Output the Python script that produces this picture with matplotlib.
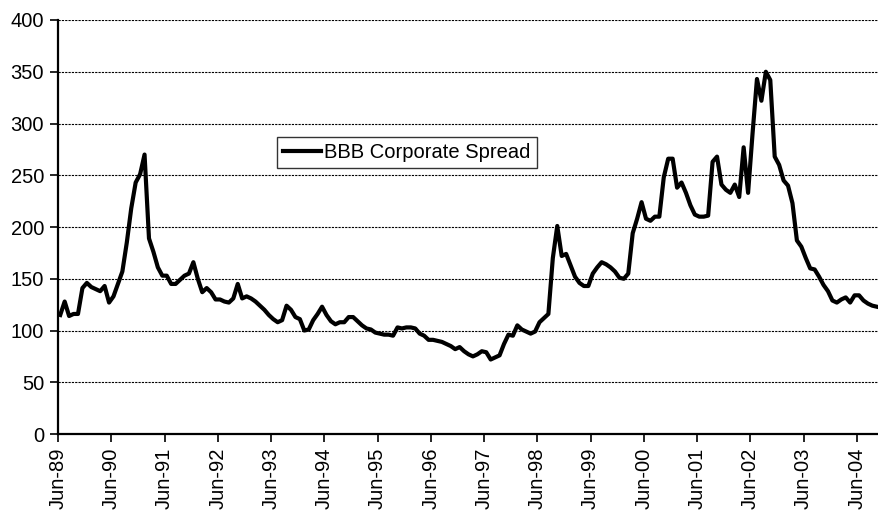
import pandas as pd
import matplotlib
matplotlib.use("Agg")
import matplotlib.pyplot as plt

plt.rcParams['font.family'] = ['Liberation Sans', 'DejaVu Sans']

# monthly BBB corporate spread (bp), Jun-89 onwards
spread = [
    115, 128, 114, 116, 116, 141, 146, 142, 140, 138, 143, 127,
    133, 145, 157, 185, 218, 243, 251, 270, 189, 176, 161, 153,
    153, 145, 145, 149, 153, 155, 166, 150, 137, 141, 137, 130,
    130, 128, 127, 131, 145, 131, 133, 131, 128, 124, 120, 115,
    111, 108, 110, 124, 120, 113, 111, 100, 101, 110, 116, 123,
    115, 109, 106, 108, 108, 113, 113, 109, 105, 102, 101, 98,
    97, 96, 96, 95, 103, 102, 103, 103, 102, 97, 95, 91,
    91, 90, 89, 87, 85, 82, 84, 80, 77, 75, 77, 80,
    79, 72, 74, 76, 87, 96, 95, 105, 101, 99, 97, 99,
    108, 112, 116, 170, 201, 172, 174, 163, 152, 146, 143, 143,
    155, 161, 166, 164, 161, 157, 151, 150, 155, 194, 208, 224,
    208, 206, 210, 210, 248, 266, 266, 238, 243, 233, 221, 212,
    210, 210, 211, 263, 268, 241, 236, 233, 241, 229, 277, 233,
    290, 343, 322, 350, 342, 268, 260, 245, 240, 223, 187, 181,
    170, 160, 159, 152, 144, 138, 129, 127, 130, 132, 127, 134,
    134, 129, 126, 124, 123,
]
dates = pd.date_range('1989-06-01', periods=len(spread), freq='MS')
tick_idx = list(range(0, len(spread), 12))
tick_labels = [dates[i].strftime('%b-%y') for i in tick_idx]

fig = plt.figure(figsize=(8.79, 5.14), dpi=100)
ax = fig.add_axes([0.066, 0.1556, 0.934, 0.8055])

# points sit in the middle of each month slot
xs = [i + 0.5 for i in range(len(spread))]
ax.plot(xs, spread, color='black', lw=3.0,
        solid_joinstyle='round', label='BBB Corporate Spread')

ax.set_ylim(0, 400)
ax.set_yticks(range(0, 401, 50))
ax.set_xlim(0, len(spread))
ax.set_xticks(tick_idx)
ax.set_xticklabels(tick_labels, rotation=90)

ax.yaxis.grid(True, color='black', linestyle=(0, (2, 1)), lw=0.8)
ax.set_axisbelow(True)
ax.spines['top'].set_visible(False)
ax.spines['right'].set_visible(False)
ax.spines['left'].set_linewidth(1.6)
ax.spines['bottom'].set_linewidth(1.6)
ax.tick_params(axis='both', direction='out', length=6, width=1.2,
               labelsize=14.5, colors='black', pad=4)

leg = ax.legend(loc='center', bbox_to_anchor=(0.425, 0.681), fontsize=14.5,
                frameon=True, fancybox=False, handlelength=1.9,
                borderpad=0.3, handletextpad=0.15)
leg.get_frame().set_edgecolor('black')
leg.get_frame().set_linewidth(1.0)

fig.savefig('out.png', dpi=100)
